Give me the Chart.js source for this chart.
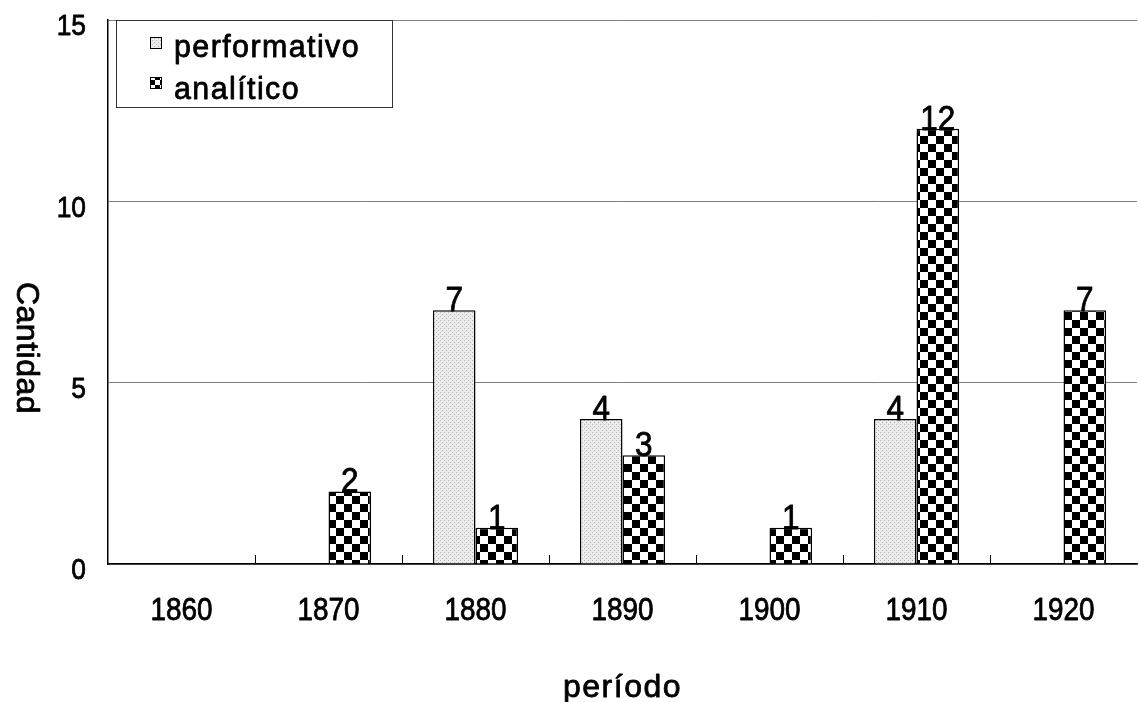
<!DOCTYPE html>
<html>
<head>
<meta charset="utf-8">
<script src="https://cdn.jsdelivr.net/npm/chart.js@4.4.0/dist/chart.umd.min.js"></script>
<style>
html,body{margin:0;padding:0;background:#fff;}
#wrap{width:1139px;height:702px;position:relative;}
</style>
</head>
<body>
<div id="wrap"><canvas id="c" width="1139" height="702"></canvas></div>
<script>
const categories = ['1860','1870','1880','1890','1900','1910','1920'];
const performativo = [0, 0, 7, 4, 0, 4, 0];
const analitico = [0, 2, 1, 3, 1, 12, 7];
const seriesNames = ['performativo', 'analítico'];
const yTicks = [0, 5, 10, 15];
const xTitle = 'período';
const yTitle = 'Cantidad';

const FONT = '"Liberation Sans", Arial, sans-serif';

function dotPattern() {
  const t = document.createElement('canvas');
  t.width = 4; t.height = 4;
  const g = t.getContext('2d');
  g.fillStyle = '#ececec'; g.fillRect(0,0,4,4);
  g.fillStyle = '#b0b0b0';
  g.fillRect(0,0,1,1); g.fillRect(2,2,1,1);
  return document.getElementById('c').getContext('2d').createPattern(t,'repeat');
}
function checkPattern(cell) {
  const t = document.createElement('canvas');
  t.width = cell*2; t.height = cell*2;
  const g = t.getContext('2d');
  g.fillStyle = '#ffffff'; g.fillRect(0,0,cell*2,cell*2);
  g.fillStyle = '#000000';
  g.fillRect(0,0,cell,cell); g.fillRect(cell,cell,cell,cell);
  return document.getElementById('c').getContext('2d').createPattern(t,'repeat');
}
const patPerf = dotPattern();
const patAna = checkPattern(8);
const patAnaSmall = checkPattern(5);

function drawText(ctx, text, x, y, size, sx, align, baseline, spacing) {
  ctx.save();
  ctx.font = size + 'px ' + FONT;
  ctx.fillStyle = '#000';
  ctx.strokeStyle = '#000';
  ctx.lineWidth = 0.8;
  ctx.lineJoin = 'round';
  ctx.textAlign = align;
  ctx.textBaseline = baseline;
  ctx.letterSpacing = (spacing || 0) + 'px';
  ctx.translate(x, y);
  ctx.scale(sx, 1);
  ctx.fillText(text, 0, 0);
  ctx.strokeText(text, 0, 0);
  ctx.restore();
}

const labelsPlugin = {
  id: 'valueLabels',
  afterDatasetsDraw(chart) {
    const ctx = chart.ctx;
    chart.data.datasets.forEach((ds, di) => {
      const meta = chart.getDatasetMeta(di);
      meta.data.forEach((bar, i) => {
        const v = ds.data[i];
        if (v > 0) drawText(ctx, String(v), bar.x, bar.y + 1, 35, 0.9, 'center', 'alphabetic');
      });
    });
  }
};

const decorPlugin = {
  id: 'decor',
  afterDraw(chart) {
    const ctx = chart.ctx;
    const a = chart.chartArea;
    const xs = chart.scales.x, ys = chart.scales.y;
    ctx.save();
    ctx.strokeStyle = '#000';
    ctx.lineWidth = 1;
    const n = categories.length;
    const w = (a.right - a.left) / n;
    for (let i = 1; i < n; i++) {
      const x = Math.round(a.left + w * i) + 0.5;
      ctx.beginPath(); ctx.moveTo(x, a.bottom); ctx.lineTo(x, a.bottom - 9); ctx.stroke();
    }
    ctx.restore();
    // tick labels
    categories.forEach((c, i) => {
      drawText(ctx, c, xs.getPixelForTick(i), 611, 31, 0.9, 'center', 'middle');
    });
    yTicks.forEach(v => {
      drawText(ctx, String(v), 86, ys.getPixelForValue(v) + 7, 30, 0.88, 'right', 'middle');
    });
    // legend box
    ctx.save();
    const lx = 116.5, ly = 20.5, lw = 276, lh = 87;
    ctx.fillStyle = '#fff';
    ctx.fillRect(lx, ly, lw, lh);
    ctx.strokeStyle = '#333';
    ctx.lineWidth = 1;
    ctx.strokeRect(lx, ly, lw, lh);
    const sw = [patPerf, patAnaSmall];
    const sy = [37, 77];
    const by = [57, 99];
    for (let k = 0; k < 2; k++) {
      ctx.fillStyle = sw[k];
      ctx.fillRect(150, sy[k], 11, 11);
      ctx.strokeStyle = '#000';
      ctx.lineWidth = 1;
      ctx.strokeRect(150.5, sy[k] + 0.5, 11, 11);
      drawText(ctx, seriesNames[k], 174, by[k], 32, 0.95, 'left', 'alphabetic', 1.5);
    }
    ctx.restore();
    // axis titles
    drawText(ctx, xTitle, (a.left + a.right) / 2, 688, 32, 1, 'center', 'middle', 1.5);
    ctx.save();
    ctx.translate(26, 348);
    ctx.rotate(Math.PI / 2);
    drawText(ctx, yTitle, 0, 0, 32, 1, 'center', 'middle', 0.5);
    ctx.restore();
  }
};

new Chart(document.getElementById('c'), {
  type: 'bar',
  data: {
    labels: categories,
    datasets: [
      { label: seriesNames[0], data: performativo, backgroundColor: patPerf, borderColor: '#000', borderWidth: 1.5, categoryPercentage: 0.58, barPercentage: 1.0 },
      { label: seriesNames[1], data: analitico, backgroundColor: patAna, borderColor: '#000', borderWidth: 1.5, categoryPercentage: 0.58, barPercentage: 1.0 }
    ]
  },
  options: {
    responsive: false,
    animation: false,
    devicePixelRatio: 1,
    layout: { padding: { top: 20, right: 2, left: 0, bottom: 0 } },
    plugins: { legend: { display: false }, tooltip: { enabled: false }, title: { display: false } },
    scales: {
      x: {
        grid: { display: false, drawTicks: false },
        border: { display: true, color: '#000', width: 1.5 },
        ticks: { display: false },
        afterFit(s) { s.height = 138; s.paddingLeft = 0; s.paddingRight = 0; }
      },
      y: {
        min: 0, max: 15,
        afterBuildTicks(s) { s.ticks = yTicks.map(v => ({ value: v })); },
        grid: { color: '#808080', lineWidth: 1, drawTicks: false },
        border: { display: true, color: '#000', width: 1.5 },
        ticks: { display: false },
        afterFit(s) { s.width = 108; s.paddingTop = 0; s.paddingBottom = 0; }
      }
    }
  },
  plugins: [labelsPlugin, decorPlugin]
});
</script>
</body>
</html>
